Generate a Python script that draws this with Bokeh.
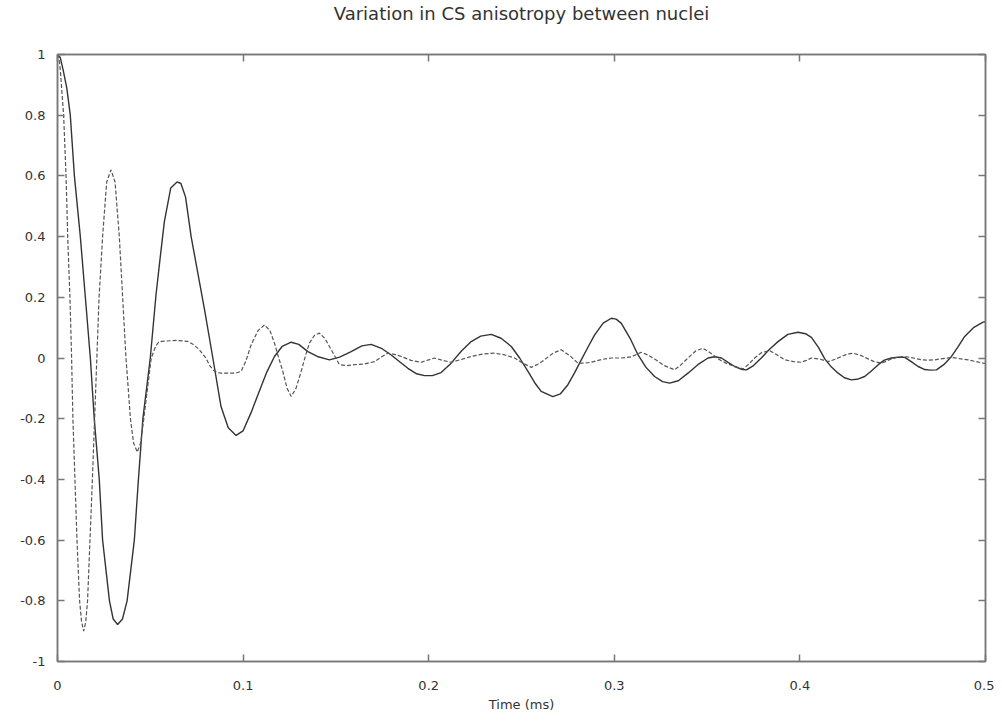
from bokeh.plotting import figure
from bokeh.models import Range1d, FixedTicker, LinearAxis, CustomJSTickFormatter
from bokeh.embed import file_html
from bokeh.resources import INLINE

# ---- data ----
time_solid = [0.000, 0.0015, 0.003, 0.005, 0.0069, 0.0091, 0.0123, 0.0150, 0.0177, 0.0198,
              0.0225, 0.0243, 0.0280, 0.0300, 0.0324, 0.0350, 0.0375, 0.0414, 0.0436, 0.0460,
              0.0500, 0.0531, 0.0555, 0.0576, 0.0610, 0.0644, 0.0665, 0.0690, 0.0720, 0.0792,
              0.0837, 0.0881, 0.0920, 0.0962, 0.1000, 0.1043, 0.1080, 0.1125, 0.1169, 0.1210,
              0.1259, 0.1300, 0.1349, 0.1400, 0.1465, 0.1520, 0.1582, 0.1640, 0.1690, 0.1745,
              0.1798, 0.1845, 0.1888, 0.1935, 0.1977, 0.2020, 0.2067, 0.2121, 0.2175, 0.2229,
              0.2280, 0.2337, 0.2390, 0.2445, 0.2490, 0.2535, 0.2575, 0.2606, 0.2669, 0.2710,
              0.2750, 0.2785, 0.2822, 0.2860, 0.2894, 0.2940, 0.2984, 0.3010, 0.3038, 0.3085,
              0.3128, 0.3170, 0.3217, 0.3260, 0.3298, 0.3345, 0.3397, 0.3450, 0.3505, 0.3540,
              0.3577, 0.3615, 0.3649, 0.3690, 0.3712, 0.3750, 0.3792, 0.3835, 0.3882, 0.3935,
              0.3990, 0.4030, 0.4062, 0.4100, 0.4134, 0.4170, 0.4206, 0.4240, 0.4278, 0.4315,
              0.4349, 0.4385, 0.4422, 0.4455, 0.4493, 0.4530, 0.4565, 0.4600, 0.4637, 0.4673,
              0.4700, 0.4736, 0.4775, 0.4817, 0.4850, 0.4888, 0.4935, 0.4987, 0.5000]
amp_solid = [1.00, 0.99, 0.95, 0.89, 0.80, 0.60, 0.40, 0.20, 0.00, -0.20,
             -0.40, -0.60, -0.80, -0.86, -0.878, -0.86, -0.80, -0.60, -0.40, -0.20,
             0.00, 0.21, 0.34, 0.45, 0.56, 0.58, 0.575, 0.53, 0.40, 0.16,
             0.00, -0.16, -0.23, -0.255, -0.24, -0.18, -0.121, -0.05, 0.005, 0.038,
             0.052, 0.045, 0.021, 0.005, -0.006, 0.003, 0.021, 0.040, 0.045, 0.032,
             0.010, -0.013, -0.034, -0.052, -0.058, -0.058, -0.048, -0.017, 0.022, 0.054,
             0.072, 0.078, 0.065, 0.038, 0.000, -0.044, -0.085, -0.110, -0.127, -0.118,
             -0.088, -0.050, -0.006, 0.038, 0.076, 0.115, 0.131, 0.128, 0.114, 0.065,
             0.010, -0.030, -0.061, -0.078, -0.083, -0.075, -0.050, -0.022, 0.000, 0.004,
             0.000, -0.015, -0.028, -0.038, -0.039, -0.025, 0.000, 0.028, 0.054, 0.078,
             0.085, 0.080, 0.068, 0.035, -0.003, -0.030, -0.050, -0.065, -0.072, -0.069,
             -0.061, -0.043, -0.022, -0.007, 0.000, 0.003, 0.002, -0.012, -0.028, -0.038,
             -0.040, -0.039, -0.022, 0.005, 0.035, 0.071, 0.100, 0.118, 0.120]

time_dashed = [0.000, 0.0008, 0.0015, 0.0033, 0.0046, 0.0055, 0.0067, 0.0076, 0.0083, 0.0094,
               0.0105, 0.0119, 0.0130, 0.0141, 0.0152, 0.0162, 0.0175, 0.0188, 0.0200, 0.0212,
               0.0224, 0.0243, 0.0265, 0.0288, 0.0310, 0.0333, 0.0351, 0.0369, 0.0393, 0.0410,
               0.0430, 0.0448, 0.0465, 0.0505, 0.0530, 0.0545, 0.0560, 0.0640, 0.0700, 0.0730,
               0.0760, 0.0780, 0.0800, 0.0820, 0.0840, 0.0860, 0.0880, 0.0960, 0.0989, 0.1015,
               0.1043, 0.1080, 0.1115, 0.1145, 0.1169, 0.1192, 0.1214, 0.1237, 0.1259, 0.1285,
               0.1313, 0.1335, 0.1357, 0.1385, 0.1411, 0.1440, 0.1465, 0.1495, 0.1519, 0.1560,
               0.1600, 0.1650, 0.1708, 0.1745, 0.1780, 0.1815, 0.1852, 0.1905, 0.1960, 0.2000,
               0.2031, 0.2075, 0.2121, 0.2175, 0.2229, 0.2290, 0.2355, 0.2410, 0.2463, 0.2510,
               0.2553, 0.2590, 0.2624, 0.2670, 0.2714, 0.2760, 0.2804, 0.2840, 0.2876, 0.2930,
               0.2984, 0.3040, 0.3092, 0.3146, 0.3180, 0.3217, 0.3270, 0.3325, 0.3360, 0.3397,
               0.3440, 0.3478, 0.3520, 0.3559, 0.3605, 0.3649, 0.3694, 0.3725, 0.3756, 0.3795,
               0.3837, 0.3878, 0.3918, 0.3965, 0.4008, 0.4035, 0.4062, 0.4110, 0.4152, 0.4190,
               0.4224, 0.4255, 0.4287, 0.4330, 0.4368, 0.4400, 0.4439, 0.4465, 0.4493, 0.4530,
               0.4565, 0.4610, 0.4655, 0.4690, 0.4727, 0.4770, 0.4817, 0.4860, 0.4906, 0.4950,
               0.4987, 0.5000]
amp_dashed = [1.00, 0.99, 0.95, 0.80, 0.60, 0.40, 0.20, 0.00, -0.20, -0.40,
              -0.60, -0.80, -0.87, -0.90, -0.87, -0.80, -0.60, -0.40, -0.20, 0.00,
              0.20, 0.40, 0.58, 0.62, 0.58, 0.40, 0.20, 0.00, -0.20, -0.28,
              -0.31, -0.28, -0.20, 0.00, 0.040, 0.052, 0.055, 0.058, 0.055, 0.045,
              0.030, 0.015, 0.000, -0.025, -0.040, -0.048, -0.050, -0.050, -0.044, -0.010,
              0.043, 0.090, 0.109, 0.090, 0.049, 0.000, -0.044, -0.100, -0.127, -0.100,
              -0.044, 0.005, 0.049, 0.075, 0.082, 0.065, 0.038, 0.005, -0.022, -0.025,
              -0.022, -0.020, -0.012, 0.003, 0.016, 0.012, 0.005, -0.008, -0.014, -0.006,
              0.000, -0.008, -0.014, -0.005, 0.005, 0.013, 0.016, 0.010, 0.000, -0.018,
              -0.031, -0.020, -0.006, 0.016, 0.027, 0.008, -0.017, -0.017, -0.014, -0.005,
              0.000, 0.000, 0.004, 0.019, 0.010, -0.003, -0.025, -0.039, -0.022, 0.000,
              0.024, 0.032, 0.016, -0.003, -0.018, -0.028, -0.036, -0.020, 0.000, 0.018,
              0.024, 0.010, -0.006, -0.012, -0.014, -0.008, 0.000, -0.004, -0.012, -0.004,
              0.005, 0.013, 0.016, 0.008, -0.003, -0.012, -0.017, -0.011, -0.003, 0.003,
              0.005, 0.000, -0.006, -0.007, -0.006, -0.002, 0.002, -0.002, -0.006, -0.012,
              -0.017, -0.018]

x_ticks = [0, 0.1, 0.2, 0.3, 0.4, 0.5]
y_ticks = [-1, -0.8, -0.6, -0.4, -0.2, 0, 0.2, 0.4, 0.6, 0.8, 1]

title_text = "Variation in CS anisotropy between nuclei"
x_label = "Time (ms)"

FONT = "DejaVu Sans"
GRAY = "#777777"
TEXT = "#333333"

p = figure(width=994, height=720, output_backend="svg", toolbar_location=None,
           x_range=Range1d(0, 0.5), y_range=Range1d(-1, 1),
           min_border_left=57, min_border_right=9, min_border_top=52, min_border_bottom=59,
           title=title_text)
p.grid.visible = False
p.background_fill_color = "white"
p.border_fill_color = "white"
p.outline_line_color = GRAY
p.outline_line_width = 1.5

p.title.align = "center"
p.title.text_font = FONT
p.title.text_font_size = "18px"
p.title.text_font_style = "normal"
p.title.text_color = TEXT
p.title.standoff = 0

fmt = CustomJSTickFormatter(code="return String(Number(tick.toFixed(1)));")
blank = CustomJSTickFormatter(code="return '';")
space = CustomJSTickFormatter(code="return ' ';")

p.add_layout(LinearAxis(), "right")
p.add_layout(LinearAxis(), "above")

for ax in p.xaxis:
    ax.ticker = FixedTicker(ticks=x_ticks)
for ax in p.yaxis:
    ax.ticker = FixedTicker(ticks=y_ticks)

for ax in p.xaxis + p.yaxis:
    ax.formatter = fmt
    ax.minor_tick_line_color = None
    ax.major_tick_in = 7
    ax.major_tick_out = 0
    ax.major_tick_line_color = GRAY
    ax.major_tick_line_width = 1.5
    ax.axis_line_color = GRAY
    ax.axis_line_width = 1.5
    ax.major_label_text_font = FONT
    ax.major_label_text_font_size = "13px"
    ax.major_label_text_color = TEXT

# mirror axes: ticks only (the top one also spaces the title away from the frame)
p.right[0].formatter = blank
p.right[0].major_label_standoff = 0
p.above[0].formatter = space
p.above[0].major_label_standoff = 13

p.below[0].major_label_standoff = 19
p.left[0].major_label_standoff = 12
p.below[0].axis_label = x_label
p.below[0].axis_label_text_font = FONT
p.below[0].axis_label_text_font_size = "13px"
p.below[0].axis_label_text_font_style = "normal"
p.below[0].axis_label_text_color = TEXT
p.below[0].axis_label_standoff = 4

p.line(time_solid, amp_solid, line_color="#333333", line_width=1.4)
p.line(time_dashed, amp_dashed, line_color="#555555", line_width=1.2, line_dash="4 2")

open("out.html", "w").write(file_html(p, INLINE))
